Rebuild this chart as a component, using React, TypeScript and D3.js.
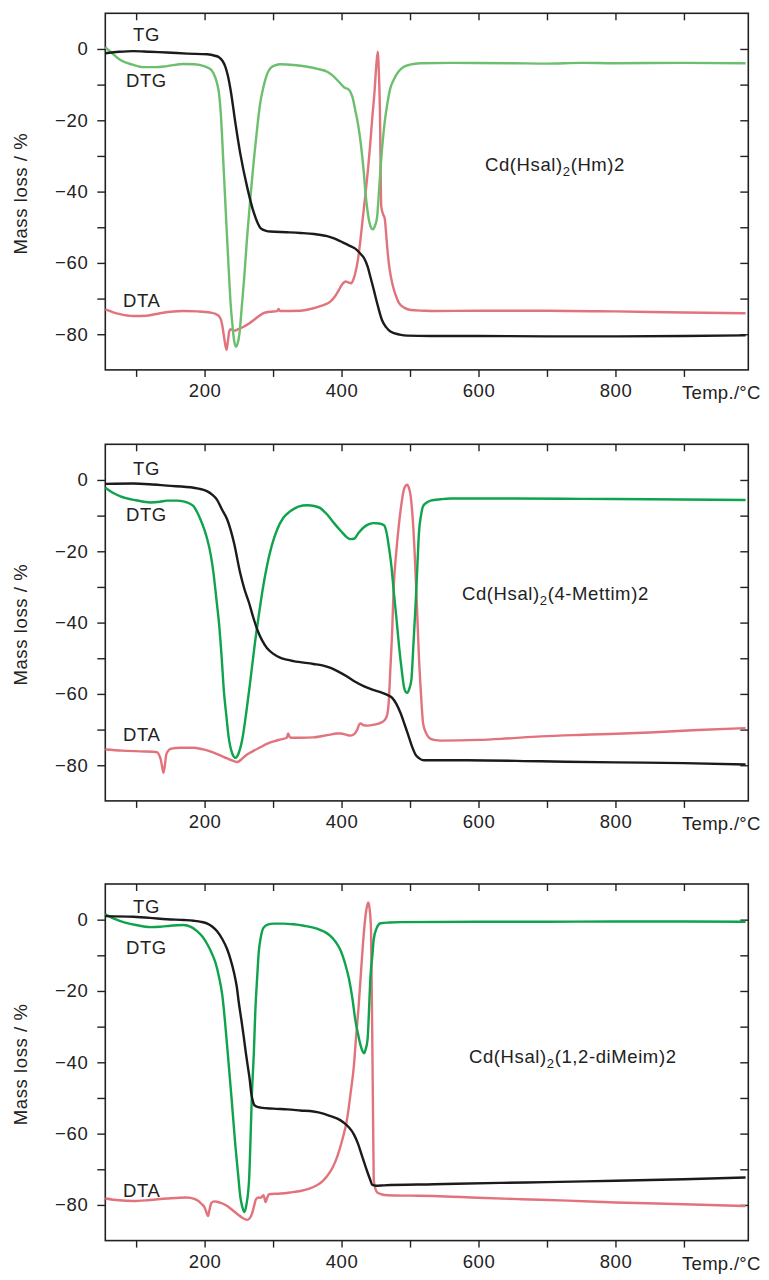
import React, { useEffect, useRef } from 'react';
import * as d3 from 'd3';

type Pt = [number, number];

// temperature (°C), value
const tg1: Pt[] = [[55,-1.2],[75,-0.8],[96,-0.6],[120,-0.8],[145,-1.0],[175,-1.3],[204,-1.5],[215,-1.9],[221,-2.3],[226,-3.3],[230,-4.8],[234,-7.5],[238,-11.5],[245,-20.8],[252,-29.2],[262,-38.6],[272,-46],[278,-49],[282,-50.3],[290,-51],[296,-51.2],[320,-51.4],[340,-51.6],[360,-51.9],[379,-52.5],[390,-53.2],[399,-54],[410,-55],[420,-56],[428,-57.5],[433,-58.7],[438,-61],[442,-63.8],[447,-67.5],[452,-71.3],[459,-76],[465,-78],[472,-79.3],[485,-80.1],[496,-80.4],[530,-80.5],[600,-80.5],[700,-80.6],[800,-80.6],[900,-80.5],[990,-80.3]];
const dtg1: Pt[] = [[55,0.5],[65,-1.2],[77,-3.1],[95,-4.4],[111,-5.1],[128,-5.1],[145,-4.8],[169,-4.2],[185,-4.3],[199,-4.8],[208,-5.6],[213,-6.8],[218,-9.5],[221,-12.4],[224,-19],[226,-26.4],[229,-38],[232,-49.8],[235,-61],[238,-71.3],[241,-78],[243,-81.6],[246,-83.5],[248,-82.8],[251,-79.7],[254,-73],[258,-63.8],[262,-53],[267,-41.4],[272,-31],[277,-21.8],[281,-15.5],[286,-10.6],[291,-7.2],[296,-5.4],[303,-4.6],[311,-4.3],[330,-4.5],[350,-5.0],[365,-5.6],[379,-6.4],[388,-7.6],[396,-9.2],[404,-10.8],[411,-11.5],[416,-13.5],[420,-17.1],[424,-21],[428,-26.4],[432,-33.5],[435,-40.5],[438,-45.5],[441,-48.9],[444,-50.4],[446,-50.6],[449,-49.5],[452,-47],[455,-39],[459,-28.3],[463,-20.5],[467,-15.2],[471,-11.2],[476,-8.7],[483,-6.4],[491,-5.0],[500,-4.4],[515,-4.0],[560,-3.9],[650,-4.0],[700,-4.1],[750,-3.9],[800,-4.0],[900,-3.9],[990,-4.0]];
const dta1: Pt[] = [[55,-73],[75,-74.3],[96,-74.9],[115,-74.8],[135,-74.1],[150,-73.7],[169,-73.5],[190,-73.6],[208,-73.9],[216,-74.3],[221,-74.9],[224,-76],[226,-77.7],[229,-81.5],[232,-84.4],[234,-82],[236,-79.2],[238,-78.6],[243,-79],[250,-78.5],[257,-77.9],[265,-77],[272,-76],[280,-74.8],[286,-74.1],[295,-73.7],[306,-73.5],[308,-72.9],[310,-73.5],[340,-73.4],[355,-72.9],[369,-72.1],[378,-71.5],[384,-70.8],[390,-69.5],[396,-67.6],[401,-66],[406,-65.2],[410,-65.5],[414,-65.7],[417,-64.8],[420,-62.9],[424,-59],[427,-54.5],[431,-47.5],[435,-40.5],[439,-33],[442,-26.4],[445,-19],[448,-12.4],[451,-4],[453,-0.8],[454,-4],[456,-17],[458,-44.2],[461,-46.5],[463,-47.5],[465,-51.5],[467,-56.3],[470,-61.5],[474,-65.7],[479,-69],[484,-71.3],[492,-72.6],[501,-73.2],[520,-73.4],[535,-73.5],[600,-73.4],[700,-73.4],[800,-73.6],[900,-73.9],[990,-74.1]];

const tg2: Pt[] = [[55,-1.1],[96,-1.0],[120,-1.2],[145,-1.6],[184,-2.2],[195,-2.6],[204,-3.2],[211,-4.1],[218,-5.5],[226,-8.5],[233,-11.1],[238,-14],[243,-17.7],[252,-26.1],[258,-30.5],[265,-34.5],[271,-38.5],[277,-42],[284,-45],[291,-47.1],[300,-48.7],[311,-49.9],[320,-50.4],[330,-50.8],[359,-51.6],[372,-52],[384,-52.7],[396,-53.8],[408,-55.1],[420,-56.6],[433,-57.9],[445,-58.8],[457,-59.5],[466,-60.2],[474,-61.1],[480,-62.8],[486,-65.3],[492,-68.5],[498,-71.9],[503,-74.8],[508,-77],[513,-78],[520,-78.6],[584,-78.6],[691,-78.9],[800,-79.2],[900,-79.4],[990,-79.8]];
const dtg2: Pt[] = [[55,-2.2],[66,-3.6],[77,-4.6],[100,-5.7],[121,-6.3],[135,-6.1],[145,-5.8],[160,-5.8],[169,-6],[178,-6.6],[184,-7.4],[189,-9],[194,-11.1],[199,-13.6],[204,-16.7],[209,-21],[213,-26.1],[217,-33],[221,-40.1],[225,-50],[228,-58.8],[232,-66.5],[235,-71.9],[240,-76.5],[245,-77.9],[250,-76.5],[255,-72.8],[261,-65],[267,-56],[273,-46.5],[279,-38.2],[285,-30.5],[291,-24.2],[298,-18.5],[306,-13.9],[315,-10.6],[325,-8.8],[337,-7.5],[350,-7.1],[360,-7.3],[369,-7.9],[379,-9.7],[389,-12.1],[399,-14.3],[408,-16.1],[413,-16.6],[418,-16.5],[425,-14.8],[433,-13.2],[440,-12.4],[447,-12.1],[455,-12.2],[462,-12.7],[466,-15],[469,-18.6],[473,-24.5],[476,-30.8],[480,-38.5],[484,-46.7],[488,-53.5],[491,-57.9],[494,-59.5],[496,-59.7],[499,-58.5],[502,-56],[505,-46],[508,-35.4],[511,-23],[513,-14.9],[516,-10],[519,-7.4],[524,-6.4],[530,-5.8],[545,-5.4],[559,-5.2],[650,-5.2],[750,-5.3],[850,-5.4],[990,-5.6]];
const dta2: Pt[] = [[55,-75.6],[80,-75.9],[106,-76.1],[125,-76.2],[131,-76.4],[134,-77.3],[136,-78.4],[138,-80.5],[140,-82.1],[142,-80],[144,-77],[147,-75.9],[150,-75.4],[165,-75.1],[184,-75.1],[196,-75.5],[208,-76.1],[220,-77],[233,-78.1],[242,-78.8],[248,-79.1],[254,-78.3],[262,-77],[272,-75.9],[282,-74.9],[291,-74],[301,-73.3],[310,-72.8],[320,-72.3],[322,-71.1],[324,-72],[326,-72.3],[340,-72.3],[359,-72.2],[372,-71.8],[384,-71.4],[392,-71.1],[399,-71.1],[406,-71.4],[413,-71.7],[419,-71.2],[423,-70],[426,-68.5],[428,-68.3],[432,-68.8],[438,-68.9],[448,-68.6],[457,-68.1],[462,-67.5],[466,-66.3],[469,-62],[471,-54.1],[474,-42],[476,-30.8],[480,-20],[484,-12.1],[488,-6],[491,-2.7],[494,-1.5],[496,-1.3],[498,-2],[501,-4.6],[504,-11],[507,-21.4],[510,-35],[513,-49.5],[516,-60],[519,-68.1],[523,-70.8],[528,-72.3],[535,-72.9],[545,-73.1],[600,-72.9],[633,-72.6],[691,-71.9],[764,-71.4],[850,-70.8],[920,-70.1],[990,-69.6]];

const tg3: Pt[] = [[55,1.0],[96,0.8],[120,0.5],[145,0.1],[170,-0.1],[184,-0.3],[195,-0.6],[204,-1.1],[211,-1.9],[218,-3.2],[226,-5.5],[233,-8.3],[238,-11.2],[243,-14.9],[247,-18.8],[250,-23.3],[254,-28.5],[257,-32.6],[260,-37],[263,-41],[266,-45],[268,-48.5],[270,-50.5],[273,-52.1],[277,-52.5],[282,-52.7],[300,-53],[321,-53.2],[340,-53.5],[359,-53.8],[372,-54.3],[384,-55.1],[394,-55.8],[403,-56.9],[411,-58.3],[418,-60.2],[424,-62.8],[430,-66.3],[434,-68.6],[438,-70.9],[442,-73],[445,-74.4],[450,-74.6],[462,-74.5],[535,-74.2],[632,-73.8],[700,-73.6],[800,-73.2],[900,-72.8],[990,-72.3]];
const dtg3: Pt[] = [[55,1.5],[65,0.5],[77,-0.4],[100,-1.5],[121,-2.1],[135,-2],[145,-1.8],[169,-1.5],[180,-2],[189,-3.2],[197,-4.8],[204,-6.9],[210,-9.2],[216,-12.1],[221,-16],[226,-21.4],[230,-29],[235,-40.1],[240,-51.5],[245,-63.5],[249,-71.5],[252,-77.5],[255,-80.5],[258,-82],[261,-80],[265,-72.8],[267,-62],[269,-49.5],[272,-37],[274,-26.1],[277,-15.5],[279,-9.3],[282,-5],[286,-2.3],[292,-1.4],[301,-1.1],[315,-1.1],[330,-1.3],[345,-1.7],[364,-2.5],[375,-3.4],[384,-4.6],[392,-6.4],[399,-8.8],[405,-12.2],[411,-16.7],[416,-22.3],[420,-28],[424,-32],[428,-35.4],[431,-37],[433,-37.5],[435,-36.5],[438,-33.6],[440,-26],[442,-16.7],[445,-10],[447,-5.5],[451,-2.5],[457,-1],[470,-0.8],[486,-0.7],[600,-0.6],[700,-0.6],[800,-0.5],[900,-0.5],[990,-0.6]];
const dta3: Pt[] = [[55,-78.2],[75,-78.7],[96,-78.9],[120,-78.6],[145,-78.2],[174,-77.9],[185,-78.3],[191,-78.9],[196,-79.8],[200,-80.7],[203,-82.3],[205,-83.1],[207,-81.5],[210,-79.4],[214,-79],[218,-79.1],[226,-79.6],[233,-80.3],[241,-81.5],[248,-82.6],[255,-83.6],[262,-84.2],[266,-83.7],[269,-82.6],[272,-80.5],[275,-78.4],[279,-77.9],[282,-78],[286,-77.3],[288,-78.5],[289,-79.2],[291,-78.2],[294,-77],[311,-76.8],[325,-76.5],[340,-76.1],[352,-75.5],[364,-74.5],[372,-73.4],[379,-71.9],[387,-69.5],[394,-66.3],[401,-61.8],[408,-56],[413,-49],[418,-41],[421,-33.5],[425,-24.2],[429,-13],[433,-2.7],[436,2.5],[439,4.8],[441,3],[443,-2.7],[444,-18],[445,-35.4],[446,-55],[447,-72.8],[449,-75.2],[452,-76.5],[458,-77],[467,-77.3],[500,-77.4],[535,-77.5],[600,-78],[662,-78.4],[730,-78.8],[800,-79.3],[900,-79.8],[990,-80.3]];

const compounds = [
  ['Cd(Hsal)', '2', '(Hm)2'],
  ['Cd(Hsal)', '2', '(4-Mettim)2'],
  ['Cd(Hsal)', '2', '(1,2-diMeim)2'],
];
const curveNames = ['TG', 'DTG', 'DTA'];

const xTicks = [100, 200, 300, 400, 500, 600, 700, 800, 900];
const xLabels = [200, 400, 600, 800];
const yTicks = [-80, -70, -60, -50, -40, -30, -20, -10, 0];
const yLabels = [0, -20, -40, -60, -80];

// layout
const W = 769, H = 1280;
const left = 105.3, right = 748.3;
const panelTops = [13.3, 444.3, 884];
const panelH = 356.6;
const nameXY = [[485, 157.7], [462, 155.7], [469, 179]];
const labelY = [[27.7, 74, 293.4], [30.7, 76.4, 296.4], [28.7, 70, 312.7]];
const labelX = [133, 126, 123];
const dtgColors = ['#6cbf6e', '#0ea34c', '#0ea34c'];
const FONT = '"Liberation Sans", Arial, Helvetica, sans-serif';
const FS = '18.5px';
const LS = '0.6px';

const App = () => {
  const ref = useRef<SVGSVGElement>(null);

  useEffect(() => {
    const svg = d3.select(ref.current);
    svg.selectAll('*').remove();

    const x = d3.scaleLinear().domain([55, 994]).range([left, right]);
    const y = d3.scaleLinear().domain([-90, 10]).range([panelH, 0]);
    const fmt = (d: number) => (d < 0 ? '\u2212' + Math.abs(d) : String(d));

    const data = [[tg1, dtg1, dta1], [tg2, dtg2, dta2], [tg3, dtg3, dta3]];

    data.forEach((series, i) => {
      const g = svg.append('g').attr('transform', `translate(0,${panelTops[i]})`);

      const styleAxis = (a: any) => {
        a.select('.domain').remove();
        a.selectAll('line').attr('stroke', '#222').attr('stroke-width', 1.4);
        a.selectAll('text')
          .attr('fill', '#222')
          .style('font-family', FONT)
          .style('font-size', FS)
          .style('letter-spacing', LS);
      };

      g.append('g')
        .attr('transform', `translate(0,${panelH})`)
        .call(d3.axisBottom(x).tickValues(xTicks).tickSize(7).tickPadding(7)
          .tickFormat((d: any) => (xLabels.includes(d) ? String(d) : '')))
        .call(styleAxis);
      g.append('g')
        .call(d3.axisTop(x).tickValues(xTicks).tickSize(-7).tickFormat(() => ''))
        .call(styleAxis);
      g.append('g')
        .attr('transform', `translate(${left},0)`)
        .call(d3.axisLeft(y).tickValues(yTicks).tickSize(8).tickPadding(9)
          .tickFormat((d: any) => (yLabels.includes(d) ? fmt(d) : '')))
        .call(styleAxis);
      g.append('g')
        .attr('transform', `translate(${right},0)`)
        .call(d3.axisRight(y).tickValues(yTicks).tickSize(-8).tickFormat(() => ''))
        .call(styleAxis);

      g.append('rect')
        .attr('x', left).attr('y', 0)
        .attr('width', right - left).attr('height', panelH)
        .attr('fill', 'none').attr('stroke', '#222').attr('stroke-width', 1.6);

      const line = d3.line<Pt>()
        .x(d => x(d[0]))
        .y(d => y(d[1]))
        .curve(d3.curveMonotoneX);

      const colors = ['#1b1b1b', dtgColors[i], '#e2737c'];
      // DTA first, then DTG, TG on top
      [2, 1, 0].forEach(k => {
        g.append('path')
          .datum(series[k])
          .attr('d', line)
          .attr('fill', 'none')
          .attr('stroke', colors[k])
          .attr('stroke-width', 2.4)
          .attr('stroke-linejoin', 'round');
      });

      curveNames.forEach((n, k) => {
        g.append('text')
          .attr('x', labelX[k]).attr('y', labelY[i][k])
          .attr('fill', '#222')
          .style('font-family', FONT).style('font-size', FS)
          .style('letter-spacing', LS)
          .text(n);
      });

      const [base, sub, rest] = compounds[i];
      const t = g.append('text')
        .attr('x', nameXY[i][0]).attr('y', nameXY[i][1])
        .attr('fill', '#222')
        .style('font-family', FONT).style('font-size', FS)
        .style('letter-spacing', LS);
      t.append('tspan').text(base);
      t.append('tspan').attr('dy', 5).style('font-size', '13px').text(sub);
      t.append('tspan').attr('dy', -5).text(rest);

      g.append('text')
        .attr('x', 682).attr('y', panelH + 29)
        .attr('fill', '#222')
        .style('font-family', FONT).style('font-size', FS)
        .style('letter-spacing', '0.3px')
        .text('Temp./\u00B0C');

      g.append('text')
        .attr('transform', `translate(27,${panelH / 2 + 2}) rotate(-90)`)
        .attr('text-anchor', 'middle')
        .attr('fill', '#222')
        .style('font-family', FONT).style('font-size', FS)
        .style('letter-spacing', LS)
        .text('Mass loss / %');
    });
  }, []);

  return (
    <svg
      ref={ref}
      width={W}
      height={H}
      style={{ position: 'absolute', left: 0, top: 0, background: '#fff' }}
    />
  );
};

export default App;
